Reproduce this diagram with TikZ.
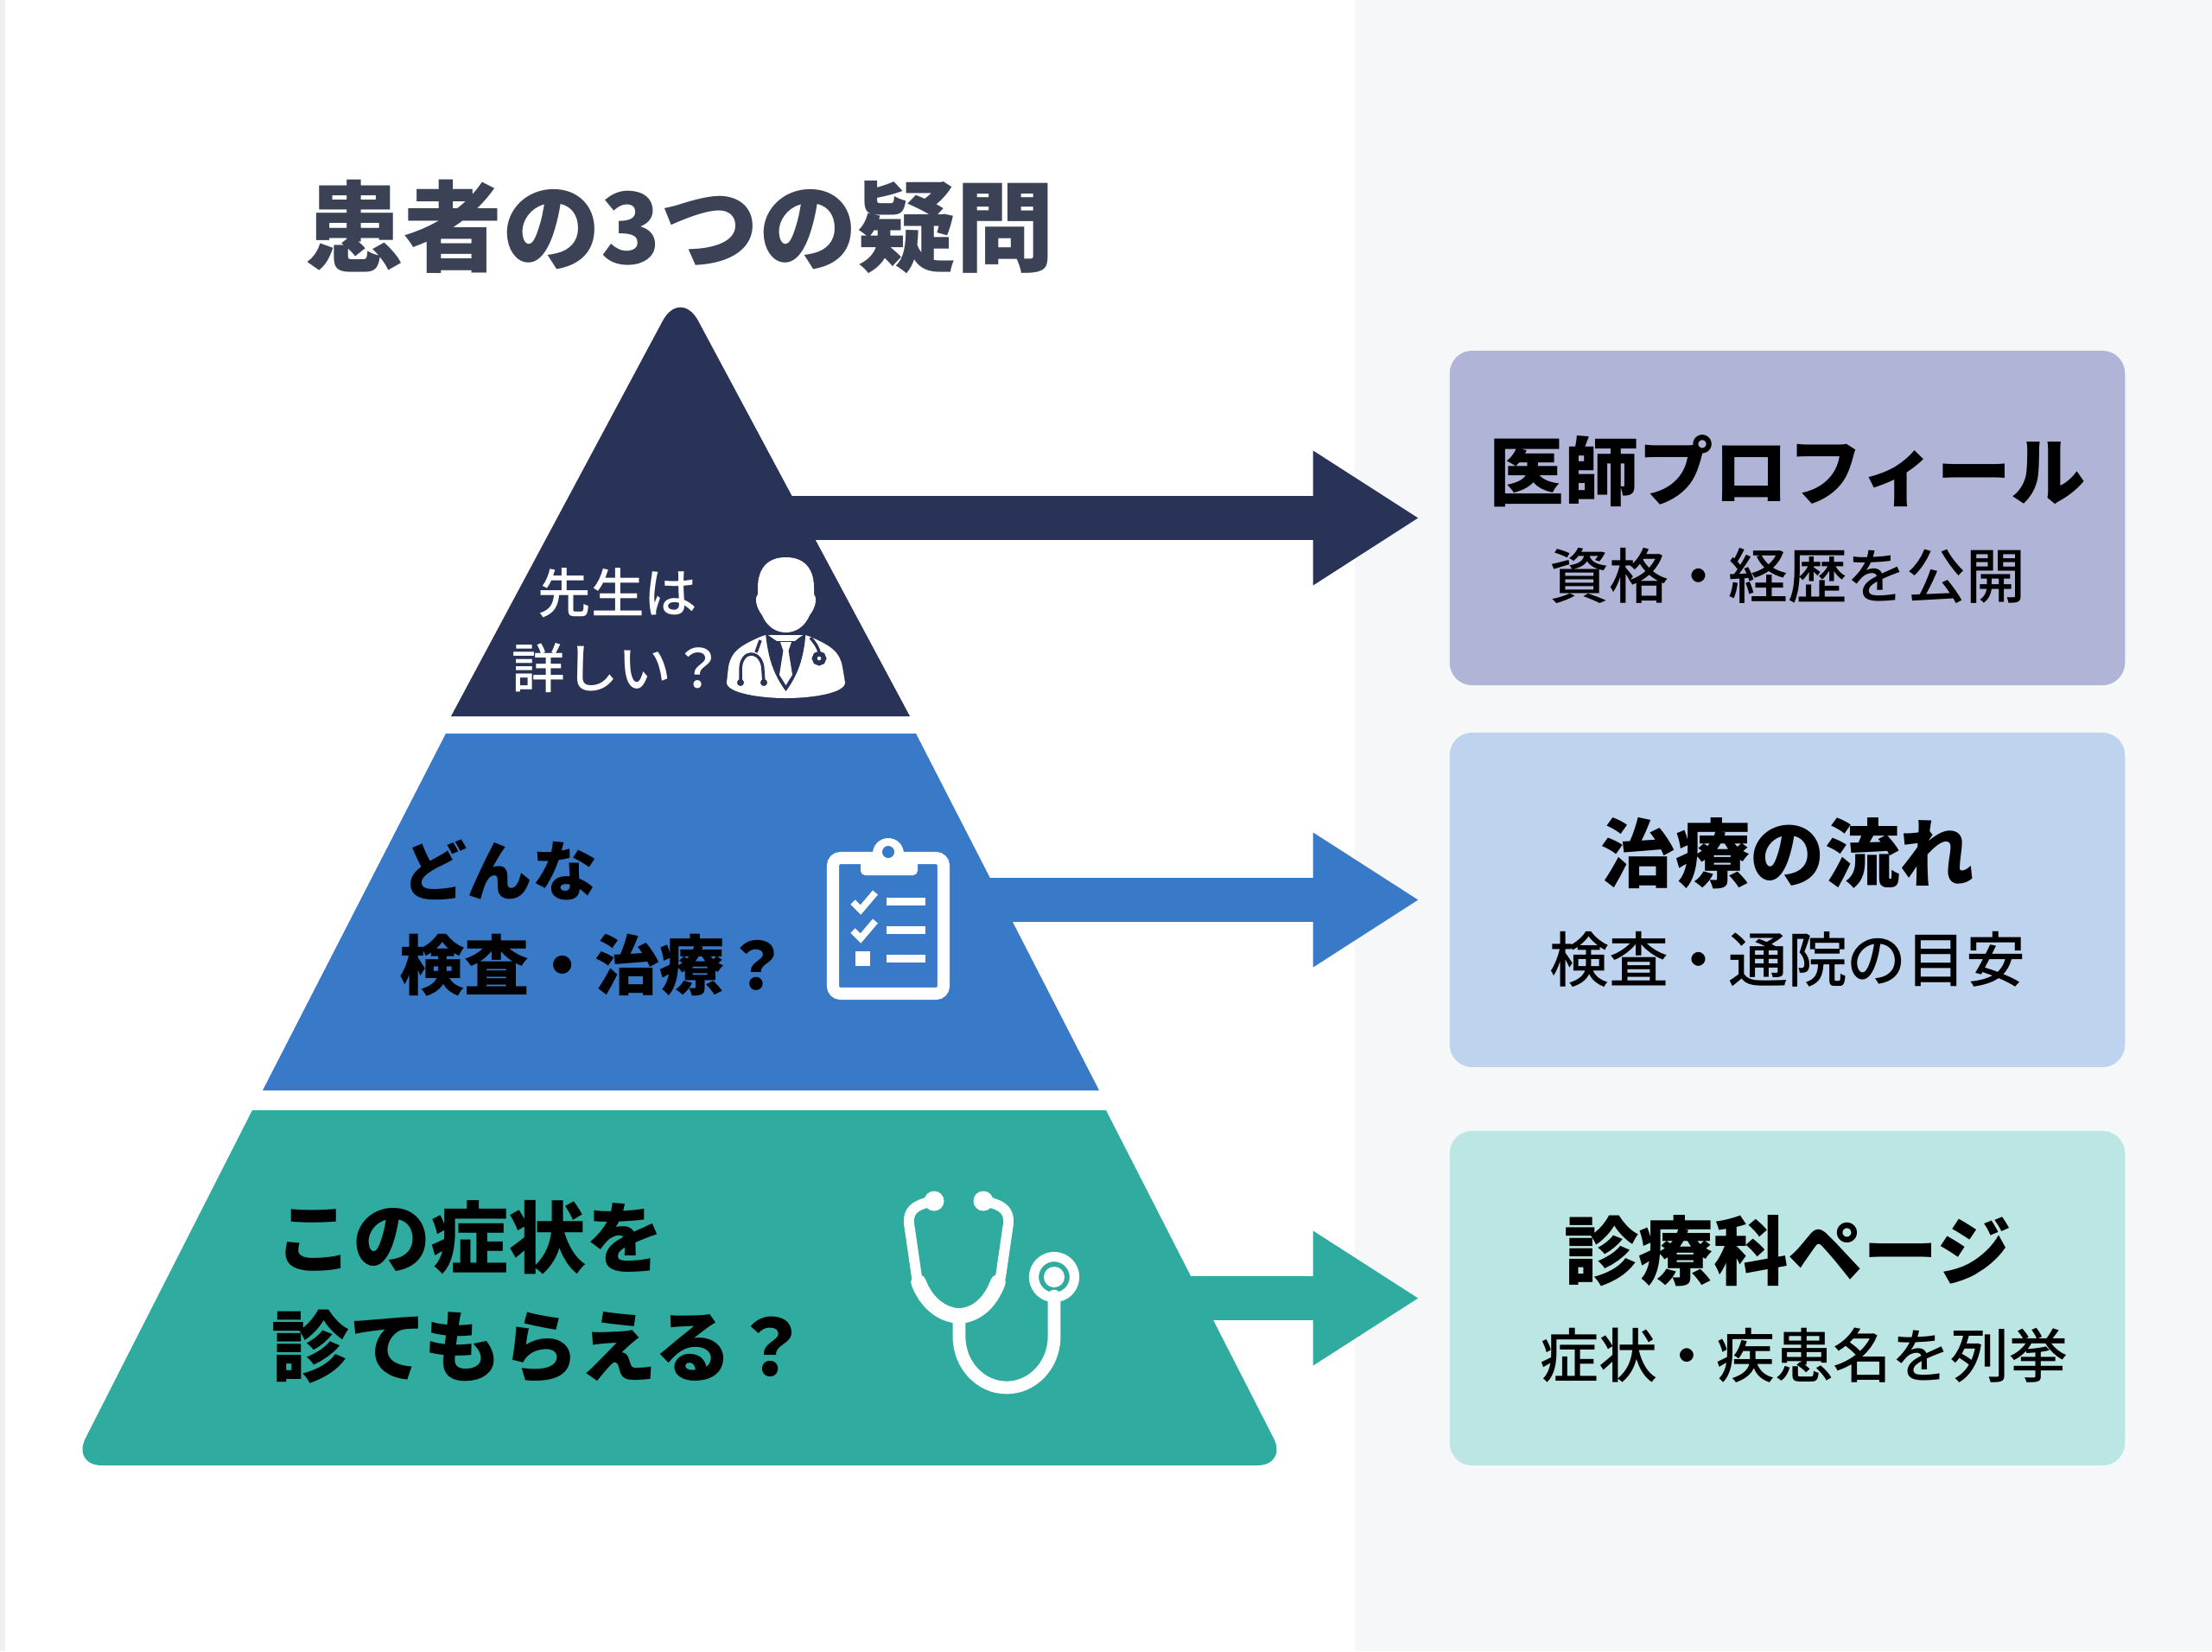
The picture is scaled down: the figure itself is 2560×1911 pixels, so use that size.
\documentclass[tikz,border=0pt]{standalone}
\usepackage{fontspec}
\usetikzlibrary{arrows.meta,calc}
\newfontfamily\jp{Noto Sans CJK JP}
\newfontfamily\jpm{Noto Sans CJK JP Medium}
\definecolor{navy}{HTML}{283357}
\definecolor{midblue}{HTML}{3879C8}
\definecolor{teal2}{HTML}{2FAC9F}
\definecolor{titlec}{HTML}{3C4256}
\definecolor{panel}{HTML}{F6F7F8}
\definecolor{strip}{HTML}{F0F0F0}
\definecolor{boxa}{HTML}{B0B4D6}
\definecolor{boxb}{HTML}{BDD3EE}
\definecolor{boxc}{HTML}{BCE6E3}
\tikzset{
  lab/.style={inner sep=0pt,font=\jp\bfseries\fontsize{#1}{#1}\selectfont},
  sublab/.style={inner sep=0pt,font=\jpm\fontsize{#1}{#1}\selectfont},
  infobox/.style={rectangle,inner sep=0pt,minimum width=7.81cm,minimum height=3.87cm,rounded corners=7.4pt},
  blockarrow/.style={line width=14.5pt,-{Triangle[length=35pt,width=41.8pt]},shorten >=9.8pt},
  iconline/.style={white,line cap=round,line join=round},
}
\begin{document}
\begin{tikzpicture}[x=0.01cm,y=-0.01cm]
\useasboundingbox (0,0) rectangle (2560,1911);
\fill[white] (0,0) rectangle (2560,1911);
\fill[panel] (1568,0) rectangle (2560,1911);
\fill[strip] (0,0) rectangle (6,1911);
% pyramid
\fill[navy] (522,829) [rounded corners=12.5pt] -- (787.5,333) [sharp corners] -- (1053,829) -- cycle;
\fill[midblue] (516,849) -- (1060,849) -- (1272,1262) -- (304,1262) -- cycle;
\fill[teal2] (292,1285) -- (1280,1285) [rounded corners=10pt] -- (1490,1696) -- (83,1696) [sharp corners] -- cycle;
% boxes
\node[infobox,fill=boxa] (b1) at (2068.5,599.5) {};
\node[infobox,fill=boxb] (b2) at (2068.5,1041.5) {};
\node[infobox,fill=boxc] (b3) at (2068.5,1502.5) {};
% arrows
\coordinate (s1) at (900,599.5);
\coordinate (s2) at (1100,1041.5);
\coordinate (s3) at (1340,1502.5);
\draw[blockarrow,navy] (s1) -- (b1.west);
\draw[blockarrow,midblue] (s2) -- (b2.west);
\draw[blockarrow,teal2] (s3) -- (b3.west);
% title
\node[lab=32.4pt,text=titlec] (title) at (787,262) {患者の3つの疑問};
% pyramid labels
\node[sublab=17.5pt,text=white] (t1a) at (715,686) {先生は};
\node[sublab=17.5pt,text=white,anchor=west] (t1b) at (592,773) {詳しい？};
\node[lab=21.4pt,anchor=west] (t2a) at (465,1007) {どんな};
\node[lab=21.4pt,anchor=west] (t2b) at (462,1117) {検査・治療？};
\node[lab=25.6pt,anchor=west] (t3a) at (318,1432) {この症状を};
\node[lab=25.6pt,anchor=west] (t3b) at (314,1559) {診てもらえる？};
% box labels
\node[lab=24.6pt] (h1) at (2069,545) {医師プロフィール};
\node[sublab=19.6pt] (d1) at (2069,666) {資格・経歴を公開};
\node[lab=24.6pt] (h2) at (2069,988) {治療の流れ};
\node[sublab=19.6pt] (d2) at (2069,1110) {検査・通院の目安};
\node[lab=24.6pt] (h3) at (2069,1448) {診療科ページ};
\node[sublab=19.3pt] (d3) at (2088,1569) {症状・疾患名を列挙};
% doctor icon
\begin{scope}
\fill[white] (909.5,645) .. controls (885,645) and (877,662) .. (877,680)
  -- (877,688) .. controls (873,692) and (875,703) .. (882,712)
  .. controls (887,724) and (897,732) .. (909.5,732)
  .. controls (922,732) and (932,724) .. (937,712)
  .. controls (944,703) and (946,692) .. (942,688)
  -- (942,680) .. controls (942,662) and (934,645) .. (909.5,645) -- cycle;
\fill[white] (880,737) .. controls (855,748) and (846,755) .. (843,772)
  -- (841,790) .. controls (841,802) and (880,808) .. (909.5,808)
  .. controls (940,808) and (978,802) .. (978,790)
  -- (975,772) .. controls (972,755) and (963,748) .. (938,737)
  -- (932,735) -- (886,735) -- cycle;
\fill[navy] (886,733) .. controls (889,762) and (895,780) .. (909.5,800)
  .. controls (924,780) and (930,762) .. (932.5,733) -- (925,738) -- (920,742) -- (899,742) -- (893,738) -- cycle;
\fill[white] (903,743) -- (916,743) -- (912.5,753) -- (917,781) -- (909.5,793) -- (902,781) -- (906.5,753) -- cycle;
\draw[navy,line width=1pt] (880,741) -- (875,755);
\draw[navy,line width=1pt,line cap=round] (857,790) -- (857,776) .. controls (857,762) and (864,757) .. (869,757)
  .. controls (878,757) and (883,766) .. (883,776) -- (884,790);
\fill[navy] (857,790) circle (4) (884,790) circle (4);
\draw[navy,line width=1pt] (938,738) .. controls (944,745) and (947,750) .. (948,755);
\draw[navy,line width=1.6pt,fill=white] (948,762) circle (5.5);
\end{scope}
% clipboard icon
\draw[white,line width=4pt,rounded corners=2.5pt] (964,993) rectangle (1092,1150);
\fill[white] (1028,988) circle (18);
\fill[white,rounded corners=1.5pt] (996,990) rectangle (1062,1013);
\fill[midblue] (1028,986) circle (7);
\draw[iconline,line width=2.2pt,line cap=butt,line join=miter] (987,1044) -- (996,1053) -- (1013,1033);
\draw[iconline,line width=2.2pt,line cap=butt,line join=miter] (987,1077) -- (996,1086) -- (1013,1066);
\fill[white] (990,1101) rectangle (1007,1118);
\fill[white] (1026,1039) rectangle (1071,1048);
\fill[white] (1026,1072) rectangle (1071,1081);
\fill[white] (1026,1105) rectangle (1071,1114);
% stethoscope icon
\draw[iconline,line width=3.4pt] (1072,1392) .. controls (1058,1396) and (1051,1402) .. (1052,1416) -- (1061,1478);
\draw[iconline,line width=3.4pt] (1147,1392) .. controls (1161,1396) and (1168,1402) .. (1167,1416) -- (1158,1478);
\fill[white] (1081,1390) circle (11.5) (1138,1390) circle (11.5);
\draw[iconline,line width=5pt] (1063,1484) .. controls (1072,1508) and (1090,1522) .. (1110,1523)
  .. controls (1130,1522) and (1146,1508) .. (1155,1484);
\draw[iconline,line width=4.2pt] (1110,1525) -- (1110,1547) arc[start angle=180,end angle=0,x radius=55,y radius=59] -- (1220,1500);
\draw[white,line width=3.2pt] (1220,1478) circle (23.5);
\fill[white] (1220,1478) circle (12);
\end{tikzpicture}
\end{document}
